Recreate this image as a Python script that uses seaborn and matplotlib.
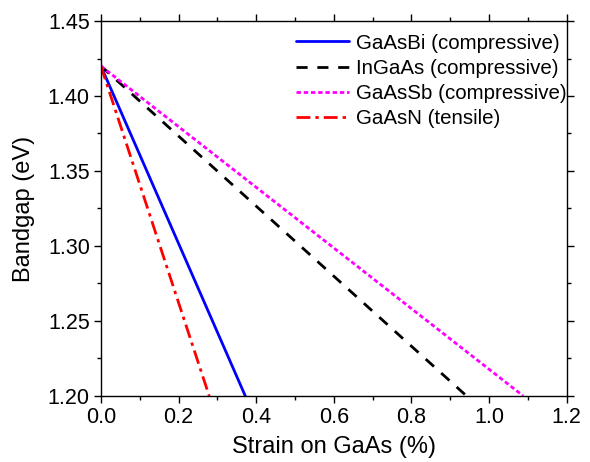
import matplotlib
matplotlib.use("Agg")
import matplotlib.pyplot as plt
import seaborn as sns
from matplotlib.ticker import MultipleLocator, FormatStrFormatter

# Bandgap vs strain (straight lines from GaAs at 1.42 eV)
labels = ["GaAsBi (compressive)", "InGaAs (compressive)",
          "GaAsSb (compressive)", "GaAsN (tensile)"]
strain_gaasbi = [0.0, 0.372]
strain_ingaas = [0.0, 0.942]
strain_gaassb = [0.0, 1.088]
strain_gaasn = [0.0, 0.279]
bandgap = [1.42, 1.20]

colors = ["#0000ff", "#000000", "#ff00ff", "#ff0000"]
dashes = [None, (4, 3.5), (1.6, 1.0), (5, 1.8, 1.2, 1.8)]

sns.set_theme(style="ticks")
plt.rcParams["font.family"] = ["Liberation Sans", "DejaVu Sans"]
plt.rcParams["text.color"] = "black"
plt.rcParams["axes.labelcolor"] = "black"
plt.rcParams["xtick.labelcolor"] = "black"
plt.rcParams["ytick.labelcolor"] = "black"

fig = plt.figure(figsize=(5.9, 4.62), dpi=100)
ax = fig.add_axes([0.171, 0.143, 0.7895, 0.8115])

for xs, lab, c, d in zip([strain_gaasbi, strain_ingaas, strain_gaassb, strain_gaasn],
                         labels, colors, dashes):
    line = sns.lineplot(x=xs, y=bandgap, ax=ax, color=c, lw=2, label=lab).lines[-1]
    if d is not None:
        line.set_dashes(d)

ax.set_xlim(0, 1.2)
ax.set_ylim(1.20, 1.45)
ax.xaxis.set_major_locator(MultipleLocator(0.2))
ax.xaxis.set_minor_locator(MultipleLocator(0.1))
ax.yaxis.set_major_locator(MultipleLocator(0.05))
ax.yaxis.set_minor_locator(MultipleLocator(0.025))
ax.yaxis.set_major_formatter(FormatStrFormatter("%.2f"))
ax.xaxis.set_major_formatter(FormatStrFormatter("%.1f"))
ax.tick_params(which="both", direction="out", top=True, right=True,
               labeltop=False, labelright=False, color="black", width=1)
ax.tick_params(which="major", length=5, labelsize=15.5, pad=3)
ax.tick_params(which="minor", length=3)
for s in ax.spines.values():
    s.set_color("black")
    s.set_linewidth(1)

ax.set_xlabel("Strain on GaAs (%)", fontsize=17, labelpad=6)
ax.set_ylabel("Bandgap (eV)", fontsize=17, labelpad=9)

ax.legend(loc="upper right", bbox_to_anchor=(1.03, 1.005), frameon=False,
          fontsize=14.8, handlelength=2.6, handletextpad=0.3,
          labelspacing=0.3, borderaxespad=0.3, borderpad=0.4)

fig.savefig("out.png", dpi=100)
